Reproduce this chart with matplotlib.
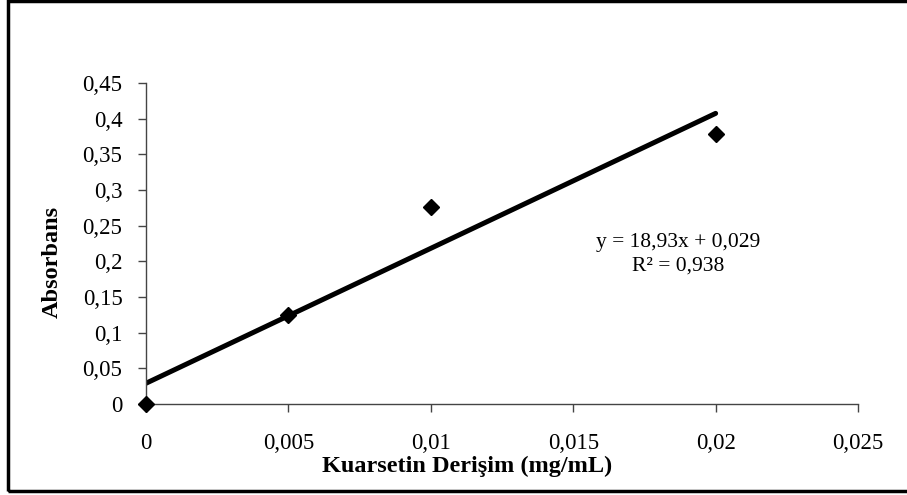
import matplotlib
matplotlib.use("Agg")
import matplotlib.pyplot as plt
from matplotlib.patches import Rectangle

# data
conc = [0.0, 0.005, 0.01, 0.02]
absorb = [0.0, 0.125, 0.276, 0.378]
slope = 18.93
intercept = 0.029
fit_x = [0.0, 0.02]
fit_y = [slope * x + intercept for x in fit_x]

xticks = [0, 0.005, 0.01, 0.015, 0.02, 0.025]
xtick_labels = ['0', '0,005', '0,01', '0,015', '0,02', '0,025']
yticks = [0, 0.05, 0.1, 0.15, 0.2, 0.25, 0.3, 0.35, 0.4, 0.45]
ytick_labels = ['0', '0,05', '0,1', '0,15', '0,2', '0,25', '0,3', '0,35', '0,4', '0,45']

plt.rcParams['font.family'] = ['Liberation Serif', 'DejaVu Serif']

fig = plt.figure(figsize=(9.07, 4.95), dpi=100)
ax = fig.add_axes([0.161, 0.184, 0.785, 0.648])

ax.plot(fit_x, fit_y, color='black', lw=3.6, solid_capstyle='round', zorder=2)
ax.plot(conc, absorb, 'D', color='black', ms=8.5, clip_on=False, zorder=3)

ax.set_xlim(0, 0.025)
ax.set_ylim(0, 0.45)
ax.set_xticks(xticks)
ax.set_xticklabels(xtick_labels)
ax.set_yticks(yticks)
ax.set_yticklabels(ytick_labels)
ax.tick_params(direction='out', length=6, width=1, labelsize=16.5, color='#444444')
ax.tick_params(axis='x', pad=15)
ax.tick_params(axis='y', pad=11)

for s in ['top', 'right']:
    ax.spines[s].set_visible(False)
for s in ['left', 'bottom']:
    ax.spines[s].set_color('#444444')
    ax.spines[s].set_linewidth(1)

ax.set_xlabel('Kuarsetin Derişim (mg/mL)', fontsize=17.5, fontweight='bold')
ax.xaxis.set_label_coords(0.451, -0.163)
ax.set_ylabel('Absorbans', fontsize=17.5, fontweight='bold')
ax.yaxis.set_label_coords(-0.117, 0.442)

ax.text(0.0187, 0.21, 'y = 18,93x + 0,029\nR² = 0,938', fontsize=15.5,
        ha='center', va='center', linespacing=1.3)

# outer frame
fig.add_artist(Rectangle((8 / 907, 4 / 495), 1.2, 490 / 495, transform=fig.transFigure,
                         fill=False, ec='black', lw=2.5))

fig.savefig('out.png', dpi=100)
